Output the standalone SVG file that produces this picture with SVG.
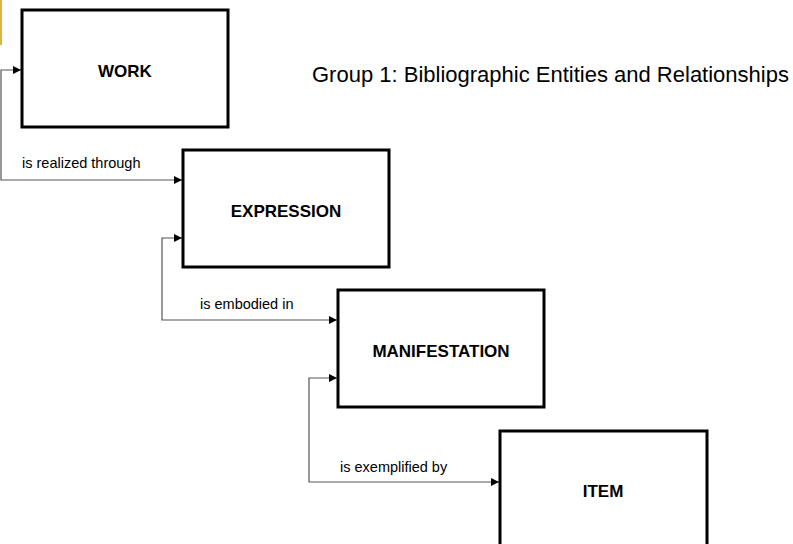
<svg xmlns="http://www.w3.org/2000/svg" width="793" height="544" viewBox="0 0 793 544">
<defs>
<style>
.box{fill:#fff;stroke:#000;stroke-width:3}
.name{font-family:"Liberation Sans",Arial,sans-serif;font-weight:bold;font-size:17px;text-anchor:middle;fill:#000}
.lbl{font-family:"Liberation Sans",Arial,sans-serif;font-size:14.5px;fill:#000}
.title{font-family:"Liberation Sans",Arial,sans-serif;font-size:22px;fill:#000}
.conn{fill:none;stroke:#555;stroke-width:1.2}
</style>
<marker id="ah" viewBox="0 0 10 10" refX="10" refY="5" markerWidth="9" markerHeight="8" markerUnits="userSpaceOnUse" orient="auto-start-reverse">
<path d="M0,0 L10,5 L0,10 z" fill="#000"/>
</marker>
</defs>
<rect x="0" y="0" width="2" height="45" fill="#DDB53D"/>
<g id="connectors">
<path class="conn" d="M21,70 H1 V180 H182" marker-start="url(#ah)" marker-end="url(#ah)"/>
<path class="conn" d="M182,238 H162 V320 H337" marker-start="url(#ah)" marker-end="url(#ah)"/>
<path class="conn" d="M337,378 H309 V482 H499" marker-start="url(#ah)" marker-end="url(#ah)"/>
<text class="lbl" x="22" y="168">is realized through</text>
<text class="lbl" x="200" y="309">is embodied in</text>
<text class="lbl" x="340" y="472">is exemplified by</text>
</g>
<g id="work">
<rect class="box" x="22" y="10" width="206" height="117"/>
<text class="name" x="125" y="77">WORK</text>
</g>
<g id="expression">
<rect class="box" x="183" y="150" width="206" height="117"/>
<text class="name" x="286" y="217">EXPRESSION</text>
</g>
<g id="manifestation">
<rect class="box" x="338" y="290" width="206" height="117"/>
<text class="name" x="441" y="357">MANIFESTATION</text>
</g>
<g id="item">
<rect class="box" x="500" y="431" width="207" height="130"/>
<text class="name" x="603" y="497">ITEM</text>
</g>
<text class="title" x="312" y="82">Group 1: Bibliographic Entities and Relationships</text>
</svg>
